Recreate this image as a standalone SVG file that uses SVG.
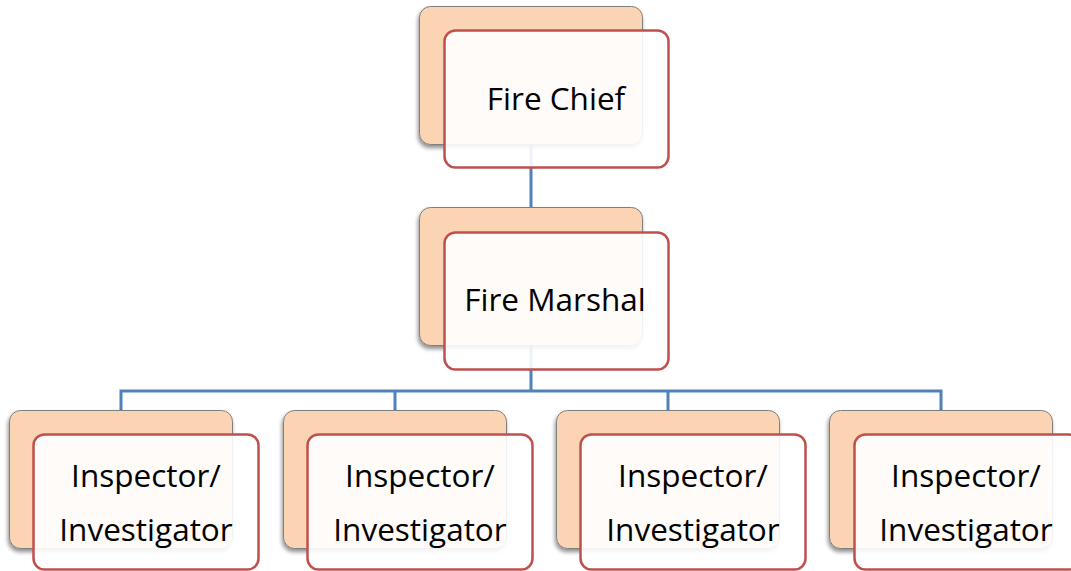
<svg xmlns="http://www.w3.org/2000/svg" width="1071" height="571" viewBox="0 0 1071 571">
  <style>
    .back { fill: #fbd4b4; stroke: #7f7f7f; stroke-width: 1; filter: url(#shadow); }
    .front { fill: #ffffff; fill-opacity: 0.9; stroke: #c0504d; stroke-width: 2.5; }
    .label { font-family: "Open Sans", "Liberation Sans", sans-serif; font-size: 31.5px; fill: #000000; text-anchor: middle; }
    .link { fill: none; stroke: #4f81bd; stroke-width: 3; }
  </style>
  <defs>
    <filter id="shadow" x="-10%" y="-10%" width="120%" height="125%">
      <feGaussianBlur in="SourceAlpha" stdDeviation="2"/>
      <feOffset dx="-1" dy="3" result="b"/>
      <feComponentTransfer><feFuncA type="linear" slope="0.45"/></feComponentTransfer>
      <feMerge><feMergeNode/><feMergeNode in="SourceGraphic"/></feMerge>
    </filter>
  </defs>
  <rect width="1071" height="571" fill="#ffffff"/>

  <!-- connectors (drawn beneath the boxes) -->
  <g id="connectors">
    <path class="link" d="M531 144 V233"/>
    <path class="link" d="M531 346 V391"/>
    <path class="link" d="M121 411 V391 H941 V411"/>
    <path class="link" d="M395 391 V411"/>
    <path class="link" d="M668 391 V411"/>
  </g>

  <g id="fire-chief">
    <rect class="back" x="419.5" y="6.5" width="223" height="138" rx="11"/>
    <rect class="front" x="444.5" y="30.5" width="224" height="137" rx="11"/>
    <text class="label" x="556" y="110">Fire Chief</text>
  </g>

  <g id="fire-marshal">
    <rect class="back" x="419.5" y="207.5" width="223" height="138" rx="11"/>
    <rect class="front" x="444.5" y="232.5" width="224" height="137" rx="11"/>
    <text class="label" x="555" y="311">Fire Marshal</text>
  </g>

  <g id="inspector-1">
    <rect class="back" x="9.5" y="410.5" width="223" height="138" rx="11"/>
    <rect class="front" x="33.5" y="434.5" width="225" height="135" rx="11"/>
    <text class="label" x="146" y="487">Inspector/</text>
    <text class="label" x="146" y="541">Investigator</text>
  </g>

  <g id="inspector-2">
    <rect class="back" x="283.5" y="410.5" width="223" height="138" rx="11"/>
    <rect class="front" x="307.5" y="434.5" width="225" height="135" rx="11"/>
    <text class="label" x="420" y="487">Inspector/</text>
    <text class="label" x="420" y="541">Investigator</text>
  </g>

  <g id="inspector-3">
    <rect class="back" x="556.5" y="410.5" width="223" height="138" rx="11"/>
    <rect class="front" x="580.5" y="434.5" width="225" height="135" rx="11"/>
    <text class="label" x="693" y="487">Inspector/</text>
    <text class="label" x="693" y="541">Investigator</text>
  </g>

  <g id="inspector-4">
    <rect class="back" x="829.5" y="410.5" width="223" height="138" rx="11"/>
    <rect class="front" x="854.5" y="434.5" width="225" height="135" rx="11"/>
    <text class="label" x="966" y="487">Inspector/</text>
    <text class="label" x="966" y="541">Investigator</text>
  </g>
</svg>
